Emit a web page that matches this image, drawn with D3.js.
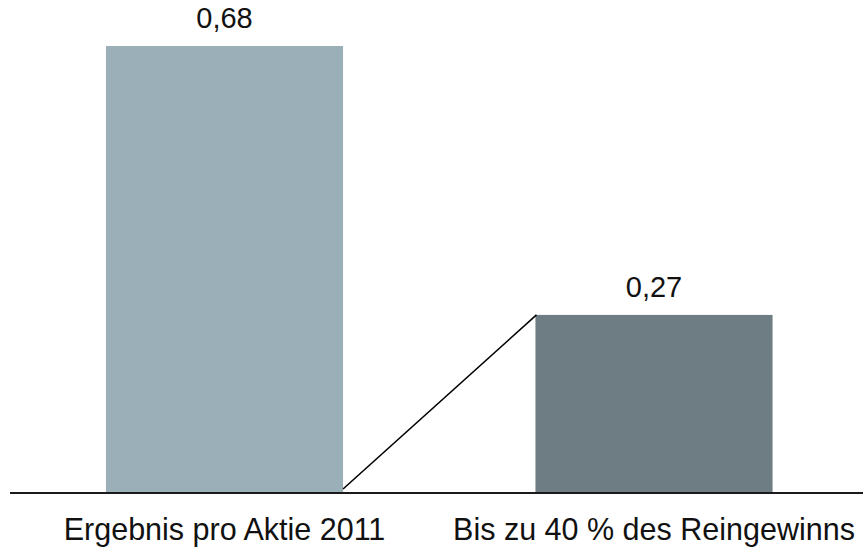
<!DOCTYPE html>
<html>
<head>
<meta charset="utf-8">
<script src="https://cdn.jsdelivr.net/npm/d3@7"></script>
<style>
  body { margin: 0; background: #fff; }
  text { font-family: "Liberation Sans", Arial, Helvetica, sans-serif; fill: #111; }
</style>
</head>
<body>
<div id="chart"></div>
<script>
const width = 863;
const height = 552;
const categories = ['Ergebnis pro Aktie 2011', 'Bis zu 40 % des Reingewinns'];
const values = [0.68, 0.27];
const valueLabels = ['0,68', '0,27'];
const colors = ['#9aafb7', '#6e7d83'];

const svg = d3.select('#chart')
  .append('svg')
  .attr('width', width)
  .attr('height', height);

const x = d3.scaleBand()
  .domain(categories)
  .range([9.75, 868.75])
  .paddingInner(0.448)
  .paddingOuter(0.224);

const y = d3.scaleLinear()
  .domain([0, 0.68])
  .range([492, 46]);

// bars
svg.selectAll('.bar')
  .data(categories)
  .enter().append('rect')
  .attr('class', 'bar')
  .attr('x', d => x(d))
  .attr('y', (d, i) => y(values[i]))
  .attr('width', x.bandwidth())
  .attr('height', (d, i) => y(0) - y(values[i]))
  .attr('fill', (d, i) => colors[i]);

// connector from bottom of first bar to top of second
svg.append('line')
  .attr('x1', x(categories[0]) + x.bandwidth())
  .attr('y1', y(0) - 3)
  .attr('x2', x(categories[1]) + 1)
  .attr('y2', y(values[1]))
  .attr('stroke', '#000')
  .attr('stroke-width', 1.6);

// baseline
svg.append('line')
  .attr('x1', 10)
  .attr('x2', width)
  .attr('y1', y(0) + 1)
  .attr('y2', y(0) + 1)
  .attr('stroke', '#1a1a1a')
  .attr('stroke-width', 2);

// value labels
svg.selectAll('.val')
  .data(categories)
  .enter().append('text')
  .attr('class', 'val')
  .attr('x', d => x(d) + x.bandwidth() / 2)
  .attr('y', (d, i) => y(values[i]) - 18)
  .attr('text-anchor', 'middle')
  .style('font-size', '29px')
  .text((d, i) => valueLabels[i]);

// category labels
svg.selectAll('.cat')
  .data(categories)
  .enter().append('text')
  .attr('class', 'cat')
  .attr('x', d => x(d) + x.bandwidth() / 2)
  .attr('y', 540)
  .attr('text-anchor', 'middle')
  .style('font-size', '30.5px')
  .text(d => d);
</script>
</body>
</html>
